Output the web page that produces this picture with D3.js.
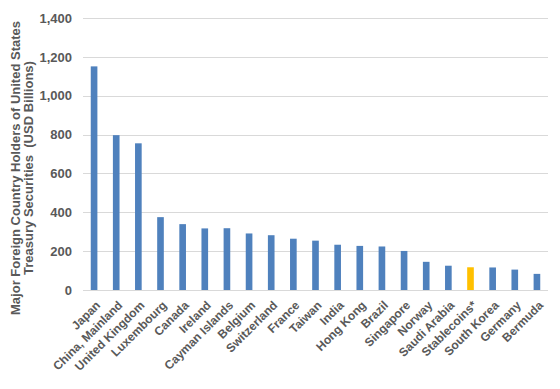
<!DOCTYPE html>
<html>
<head>
<meta charset="utf-8">
<script src="https://cdn.jsdelivr.net/npm/d3@7"></script>
<style>
  body { margin: 0; background: #fff; }
  svg text { font-family: "Liberation Sans", Arial, sans-serif; font-weight: bold; fill: #595959; }
</style>
</head>
<body>
<svg id="chart"></svg>
<script>
const categories = ["Japan", "China, Mainland", "United Kingdom", "Luxembourg", "Canada", "Ireland",
  "Cayman Islands", "Belgium", "Switzerland", "France", "Taiwan", "India", "Hong Kong", "Brazil",
  "Singapore", "Norway", "Saudi Arabia", "Stablecoins*", "South Korea", "Germany", "Bermuda"];
const holdings = [1151, 797, 755, 375, 339, 317, 318, 291, 282, 264, 254, 233, 227, 224, 201, 145, 125, 117, 116, 105, 83];
const highlighted = ["Stablecoins*"];
const yTicks = [0, 200, 400, 600, 800, 1000, 1200, 1400];
const yTitle = ["Major Foreign Country Holders of United States", "Treasury Securities  (USD Billions)"];

const width = 560, height = 389;
const margin = { top: 18, right: 12, bottom: 99, left: 83 };

const svg = d3.select("#chart")
  .attr("width", width)
  .attr("height", height);

const x = d3.scaleBand()
  .domain(categories)
  .range([margin.left, width - margin.right])
  .paddingInner(0.7)
  .paddingOuter(0.35);

const y = d3.scaleLinear()
  .domain([0, 1400])
  .range([height - margin.bottom, margin.top]);

// gridlines
svg.append("g")
  .selectAll("line")
  .data(yTicks)
  .join("line")
  .attr("x1", margin.left)
  .attr("x2", width - margin.right)
  .attr("y1", d => Math.round(y(d)) + 0.5)
  .attr("y2", d => Math.round(y(d)) + 0.5)
  .style("stroke", "#d9d9d9")
  .style("stroke-width", 1);

// y axis labels
const yAxis = svg.append("g")
  .attr("transform", `translate(${margin.left - 11},0)`)
  .call(d3.axisLeft(y).tickValues(yTicks).tickSize(0).tickFormat(d3.format(",")));
yAxis.select(".domain").remove();
yAxis.selectAll("text")
  .attr("x", 0)
  .style("font-size", "13px")
  .style("font-family", "\"Liberation Sans\", Arial, sans-serif")
  .style("font-weight", "bold")
  .style("fill", "#595959");

// bars
svg.append("g")
  .selectAll("rect")
  .data(categories)
  .join("rect")
  .attr("x", d => x(d))
  .attr("width", x.bandwidth())
  .attr("y", (d, i) => y(holdings[i]))
  .attr("height", (d, i) => y(0) - y(holdings[i]))
  .style("fill", d => highlighted.includes(d) ? "#ffc000" : "#4f81bd");

// x labels
svg.append("g")
  .selectAll("text")
  .data(categories)
  .join("text")
  .attr("transform", d => `translate(${x(d) + x.bandwidth() / 2 + 4},${y(0) + 13}) rotate(-45)`)
  .attr("text-anchor", "end")
  .attr("dy", "0.35em")
  .style("font-size", "12px")
  .text(d => d);

// y title
const title = svg.append("text")
  .attr("transform", `translate(20,${168}) rotate(-90)`)
  .attr("text-anchor", "middle")
  .style("font-size", "13px")
  .style("white-space", "pre");
title.selectAll("tspan")
  .data(yTitle)
  .join("tspan")
  .attr("x", 0)
  .attr("dy", (d, i) => i === 0 ? 0 : "1.0em")
  .text(d => d);
</script>
</body>
</html>
